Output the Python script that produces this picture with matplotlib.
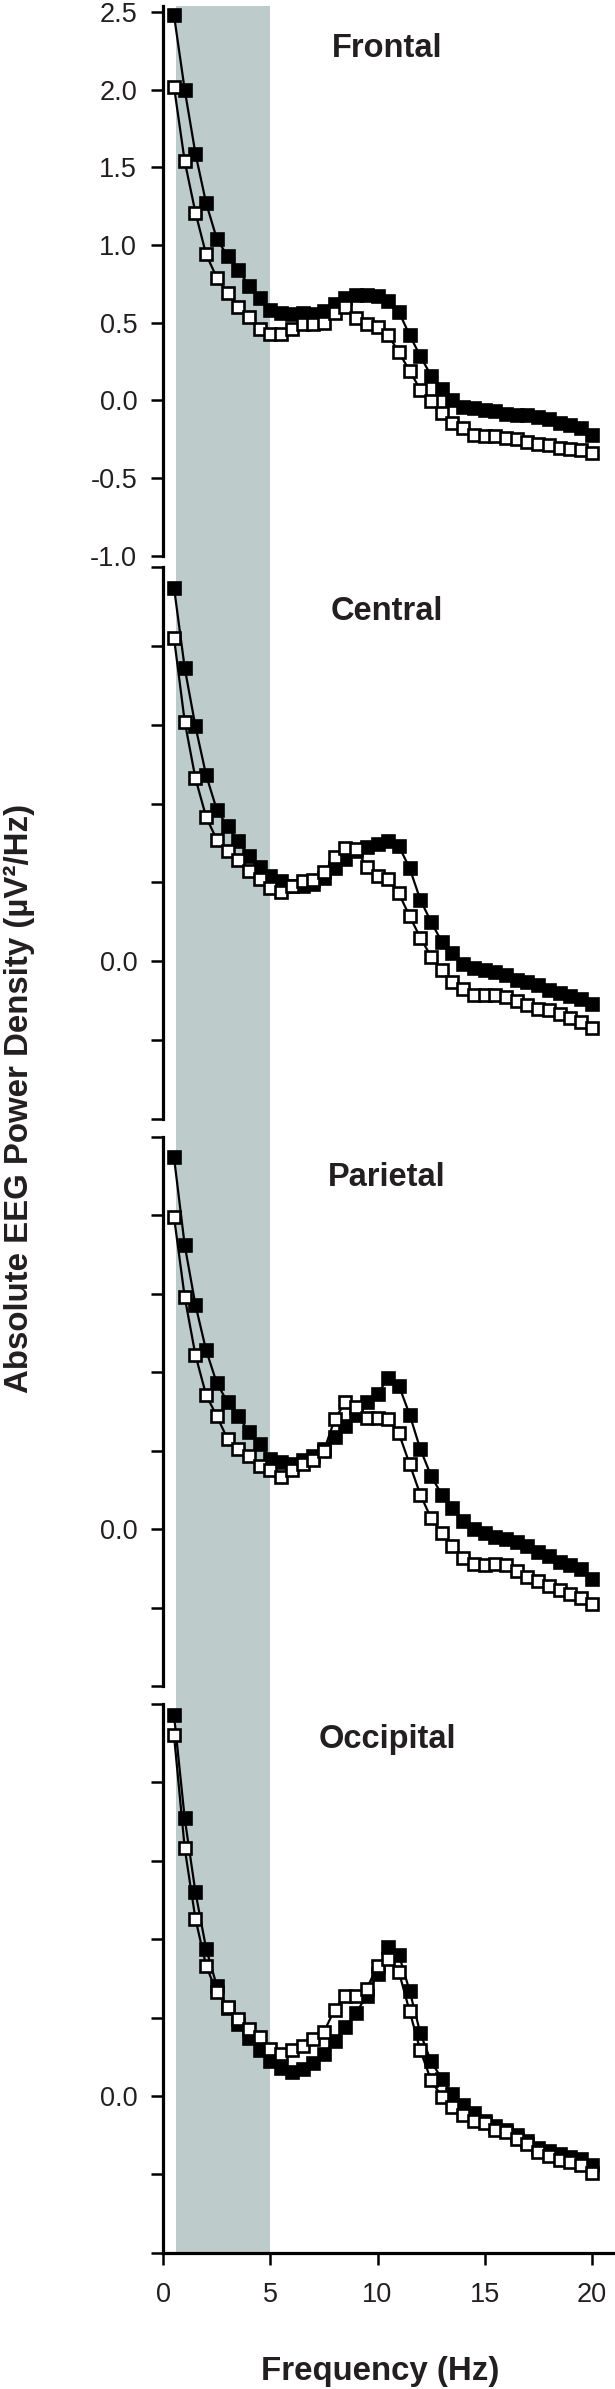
import numpy as np
import matplotlib
matplotlib.use("Agg")
import matplotlib.pyplot as plt

# frequency bins (Hz)
freq_hz = np.arange(1, 41) * 0.5

# log power per region, filled = group A, open = group B
frontal_filled = [2.48, 2.00, 1.59, 1.27, 1.04, 0.93, 0.84, 0.74, 0.66, 0.58,
                  0.56, 0.555, 0.56, 0.555, 0.575, 0.62, 0.66, 0.68, 0.68, 0.67,
                  0.64, 0.57, 0.42, 0.285, 0.16, 0.075, 0.0, -0.04, -0.05, -0.06,
                  -0.07, -0.085, -0.095, -0.095, -0.11, -0.12, -0.145, -0.16, -0.18, -0.22]
frontal_open = [2.02, 1.54, 1.21, 0.94, 0.79, 0.69, 0.60, 0.535, 0.46, 0.43,
                0.43, 0.46, 0.49, 0.49, 0.50, 0.56, 0.60, 0.53, 0.49, 0.47,
                0.42, 0.31, 0.19, 0.07, -0.005, -0.08, -0.145, -0.18, -0.22, -0.23,
                -0.23, -0.245, -0.25, -0.27, -0.28, -0.29, -0.305, -0.31, -0.32, -0.34]

central_filled = [2.37, 1.86, 1.49, 1.18, 0.96, 0.855, 0.76, 0.67, 0.60, 0.54,
                  0.51, 0.48, 0.48, 0.49, 0.53, 0.59, 0.65, 0.70, 0.725, 0.745,
                  0.765, 0.73, 0.59, 0.39, 0.25, 0.125, 0.055, -0.02, -0.045, -0.055,
                  -0.07, -0.09, -0.12, -0.13, -0.15, -0.18, -0.20, -0.22, -0.24, -0.27]
central_open = [2.05, 1.52, 1.16, 0.915, 0.77, 0.70, 0.64, 0.575, 0.52, 0.465,
                0.44, 0.48, 0.51, 0.515, 0.565, 0.66, 0.72, 0.71, 0.60, 0.54,
                0.52, 0.43, 0.285, 0.15, 0.03, -0.055, -0.13, -0.175, -0.215, -0.215,
                -0.215, -0.225, -0.25, -0.275, -0.30, -0.31, -0.335, -0.36, -0.385, -0.42]

parietal_filled = [2.37, 1.81, 1.43, 1.14, 0.93, 0.81, 0.72, 0.62, 0.54, 0.45,
                   0.43, 0.415, 0.44, 0.465, 0.51, 0.59, 0.66, 0.73, 0.81, 0.86,
                   0.965, 0.915, 0.73, 0.51, 0.34, 0.22, 0.135, 0.05, 0.0, -0.025,
                   -0.05, -0.06, -0.085, -0.11, -0.145, -0.17, -0.21, -0.23, -0.255, -0.32]
parietal_open = [1.99, 1.48, 1.11, 0.855, 0.72, 0.575, 0.51, 0.465, 0.40, 0.38,
                 0.33, 0.38, 0.415, 0.44, 0.50, 0.70, 0.81, 0.78, 0.71, 0.71,
                 0.70, 0.61, 0.415, 0.22, 0.07, -0.025, -0.11, -0.185, -0.22, -0.23,
                 -0.22, -0.23, -0.27, -0.305, -0.33, -0.365, -0.39, -0.415, -0.44, -0.475]

occipital_filled = [2.43, 1.77, 1.30, 0.94, 0.70, 0.56, 0.46, 0.37, 0.29, 0.22,
                    0.175, 0.155, 0.17, 0.21, 0.27, 0.35, 0.44, 0.53, 0.64, 0.78,
                    0.95, 0.90, 0.67, 0.40, 0.22, 0.11, 0.01, -0.06, -0.11, -0.16,
                    -0.19, -0.22, -0.25, -0.29, -0.33, -0.35, -0.37, -0.39, -0.40, -0.44]
occipital_open = [2.30, 1.58, 1.13, 0.83, 0.66, 0.57, 0.49, 0.43, 0.375, 0.30,
                  0.27, 0.29, 0.32, 0.365, 0.41, 0.55, 0.64, 0.64, 0.685, 0.83,
                  0.875, 0.79, 0.54, 0.29, 0.10, -0.005, -0.07, -0.12, -0.16, -0.17,
                  -0.215, -0.23, -0.275, -0.305, -0.36, -0.38, -0.41, -0.42, -0.44, -0.49]

region_names = ["Frontal", "Central", "Parietal", "Occipital"]
y_ticks = [2.5, 2.0, 1.5, 1.0, 0.5, 0.0, -0.5, -1.0]
y_tick_labels = ["2.5", "2.0", "1.5", "1.0", "0.5", "0.0", "-0.5", "-1.0"]
x_ticks = [0, 5, 10, 15, 20]
x_tick_labels = ["0", "5", "10", "15", "20"]
shade_band = (0.6, 5.0)

INK = "#231f20"
SHADE = "#bdcbca"

plt.rcParams['font.family'] = ['Liberation Sans', 'DejaVu Sans']

W, H = 615.0, 2389.0
LEFT_PX = 163.3
PX_PER_HZ = 21.42
X_MAX = (W - LEFT_PX) / PX_PER_HZ
Y_TOP = 2.54

# pixel rows of the 2.5 and -1.0 ticks for each panel
panel_rows = [(12.2, 555.7), (567.0, 1119.0), (1137.0, 1686.0), (1704.0, 2252.7)]
title_y = [2.214, 2.166, 2.19, 2.22]


def rect_from_px(top_px, bottom_px):
    return [LEFT_PX / W, 1 - bottom_px / H, (W - LEFT_PX) / W, (bottom_px - top_px) / H]


fig = plt.figure(figsize=(W / 100, H / 100), dpi=100)

# shaded band runs across all panels
bg = fig.add_axes(rect_from_px(6.0, 2252.7))
bg.set_xlim(0, X_MAX)
bg.set_ylim(0, 1)
bg.axvspan(shade_band[0], shade_band[1], color=SHADE, lw=0)
bg.axis("off")

series = [(frontal_filled, frontal_open), (central_filled, central_open),
          (parietal_filled, parietal_open), (occipital_filled, occipital_open)]

for i, (name, (filled, opened), (t_px, b_px)) in enumerate(zip(region_names, series, panel_rows)):
    ppu = (b_px - t_px) / 3.5
    top_px = t_px - (Y_TOP - 2.5) * ppu
    ax = fig.add_axes(rect_from_px(top_px, b_px))
    ax.patch.set_visible(False)
    ax.set_xlim(0, X_MAX)
    ax.set_ylim(-1.0, Y_TOP)

    ax.plot(freq_hz, filled, color="black", lw=1.6, marker="s", ms=8,
            mfc="black", mec="black", mew=1.9, clip_on=False, zorder=3)
    ax.plot(freq_hz, opened, color="black", lw=1.6, marker="s", ms=8,
            mfc="white", mec="black", mew=1.9, clip_on=False, zorder=4)

    ax.text(10.44, title_y[i], name, ha="center", va="baseline",
            fontsize=23.5, fontweight="bold", color=INK)

    for side in ["top", "right"]:
        ax.spines[side].set_visible(False)
    ax.spines["left"].set_linewidth(2.3)
    ax.spines["left"].set_bounds(-1.0, 2.5 if i else Y_TOP)

    ax.set_yticks(y_ticks)
    if i == 0:
        ax.set_yticklabels(y_tick_labels)
    else:
        ax.set_yticklabels([lab if lab == "0.0" else "" for lab in y_tick_labels])
    ax.tick_params(axis="y", direction="out", length=8.8, width=1.8, pad=10,
                   labelsize=19.5, labelcolor=INK)

    if i == 3:
        ax.spines["bottom"].set_linewidth(2.3)
        ax.set_xticks(x_ticks)
        ax.set_xticklabels(x_tick_labels)
        ax.tick_params(axis="x", direction="out", length=8.8, width=1.8, pad=12,
                       labelsize=19.5, labelcolor=INK)
    else:
        ax.spines["bottom"].set_visible(False)
        ax.set_xticks([])

fig.text(19 / W, 1 - 1098 / H, "Absolute EEG Power Density (µV²/Hz)", rotation=90,
         ha="center", va="center", fontsize=23.8, fontweight="bold", color=INK)
fig.text(380 / W, 1 - 2380 / H, "Frequency (Hz)", ha="center", va="baseline",
         fontsize=23.8, fontweight="bold", color=INK)

fig.savefig("out.png", dpi=100)
